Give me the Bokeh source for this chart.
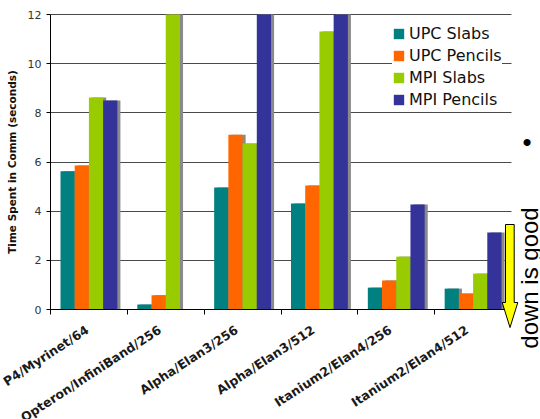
import math
import numpy as np

from bokeh.plotting import figure
from bokeh.models import (ColumnDataSource, Range1d, FixedTicker, CustomJSTickFormatter,
                          Legend, LegendItem, Label, PolyAnnotation)
from bokeh.transform import dodge
from bokeh.embed import file_html
from bokeh.resources import INLINE

# Machine / interconnect / processor count
systems = ["P4/Myrinet/64", "Opteron/InfiniBand/256", "Alpha/Elan3/256",
           "Alpha/Elan3/512", "Itanium2/Elan4/256", "Itanium2/Elan4/512"]

# Time spent in communication (seconds); axis is cut at 12
upc_slabs = [5.62, 0.20, 4.96, 4.31, 0.89, 0.85]
upc_pencils = [5.86, 0.58, 7.11, 5.04, 1.18, 0.65]
mpi_slabs = [8.62, 12.0, 6.75, 11.31, 2.15, 1.46]
mpi_pencils = [8.50, np.nan, 12.0, 12.0, 4.27, 3.13]

series_names = ["UPC Slabs", "UPC Pencils", "MPI Slabs", "MPI Pencils"]
series_values = [upc_slabs, upc_pencils, mpi_slabs, mpi_pencils]
series_colors = ["#008080", "#FF6600", "#99CC00", "#333399"]

y_ticks = [0, 2, 4, 6, 8, 10, 12]

FONT = "DejaVu Sans"

W, H = 540, 419
# plot area in canvas pixels: left, right, top, bottom
PL, PR, PT, PB = 50, 511, 14, 309
n = len(systems)
ymax = 12
xs = n / (PR - PL)          # data units per pixel (x)
ys = ymax / (PB - PT)       # data units per pixel (y)

# the frame covers the whole canvas; axes are pinned at x=0 / y=0 so the
# side note and arrow can sit outside the bar area without being clipped
p = figure(width=W, height=H,
           x_range=Range1d(-PL * xs, (W - PL) * xs),
           y_range=Range1d(-(H - PB) * ys, ymax + PT * ys),
           output_backend="svg", toolbar_location=None,
           min_border_left=0, min_border_right=0,
           min_border_top=0, min_border_bottom=0)
p.outline_line_color = None
p.background_fill_color = "white"
p.border_fill_color = "white"

# x positions: one slot per system, bars dodged inside the slot
slot = np.arange(n) + 0.5
bar_w = 0.185
offsets = [-1.5 * bar_w, -0.5 * bar_w, 0.5 * bar_w, 1.5 * bar_w]

sources = [ColumnDataSource(dict(x=slot, top=np.array(v, dtype=float), system=systems))
           for v in series_values]

# grid
p.xgrid.visible = False
p.ygrid.ticker = FixedTicker(ticks=y_ticks)
p.ygrid.bounds = (0, ymax)
p.ygrid.cross_bounds = (0, n)
p.ygrid.grid_line_color = "#4a4a4a"
p.ygrid.grid_line_width = 1
p.ygrid.level = "underlay"

# drop shadows first, then the coloured bars on top
for src, off in zip(sources, offsets):
    p.vbar(x=dodge("x", off + 0.04, range=p.x_range), top="top", width=bar_w,
           source=src, fill_color="#8a8a8a", line_color=None)

bar_renderers = []
for src, off, col in zip(sources, offsets, series_colors):
    r = p.vbar(x=dodge("x", off, range=p.x_range), top="top", width=bar_w,
               source=src, fill_color=col, line_color=None)
    bar_renderers.append(r)

# y axis
yax = p.yaxis[0]
yax.fixed_location = 0
yax.bounds = (0, ymax)
yax.ticker = FixedTicker(ticks=y_ticks)
yax.axis_label = "Time Spent in Comm (seconds)"
yax.axis_label_text_font = FONT
yax.axis_label_text_font_style = "bold"
yax.axis_label_text_font_size = "10.5px"
yax.axis_label_text_color = "#111111"
yax.axis_label_standoff = 7
yax.major_label_text_font = FONT
yax.major_label_text_font_size = "11px"
yax.major_label_text_color = "#333333"
yax.major_label_standoff = 5
yax.major_tick_in = 0
yax.major_tick_out = 4
yax.minor_tick_line_color = None
yax.axis_line_color = "black"
yax.major_tick_line_color = "black"

# x axis: labels near slot centres, tick marks at slot boundaries
xax = p.xaxis[0]
xax.fixed_location = 0
xax.bounds = (0, n)
xax.ticker = FixedTicker(ticks=list(slot - 0.078), minor_ticks=list(range(n + 1)))
xax.formatter = CustomJSTickFormatter(args=dict(labels=systems),
                                      code="return labels[Math.floor(tick)] || ''")
xax.major_label_orientation = 0.58
xax.major_label_text_font = FONT
xax.major_label_text_font_style = "bold"
xax.major_label_text_font_size = "12.5px"
xax.major_label_text_color = "#1a1a1a"
xax.major_label_standoff = 14
xax.major_tick_in = 0
xax.major_tick_out = 0
xax.minor_tick_in = 0
xax.minor_tick_out = 5
xax.minor_tick_line_color = "black"
xax.axis_line_color = "black"

legend = Legend(items=[LegendItem(label=nm, renderers=[r]) for nm, r in zip(series_names, bar_renderers)],
                location=(392, 310), margin=0, padding=3, spacing=3,
                label_height=19, glyph_width=13, glyph_height=13, label_standoff=4,
                label_text_font=FONT, label_text_font_size="16px",
                label_text_color="#111111",
                border_line_color=None, background_fill_color="white", background_fill_alpha=1)
legend.level = "overlay"
p.add_layout(legend)

# side note: bullet, "down is good" and a yellow arrow pointing down
p.add_layout(Label(x=(526.5 - PL) * xs, y=(PB - 141) * ys, text="\u2022",
                   text_font="Liberation Sans", text_font_size="26px",
                   text_align="center", text_baseline="middle", text_color="black"))
p.add_layout(Label(x=(529 - PL) * xs, y=(PB - 277.5) * ys, text="down is good", angle=math.pi / 2,
                   text_font="Liberation Sans", text_font_size="24px",
                   text_align="center", text_baseline="middle", text_color="black"))

ax_l, ax_r, hd_l, hd_r, tip = [(v - PL) * xs for v in (505, 513.7, 501.7, 517.3, 509.5)]
ay_top, ay_head, ay_tip = [(PB - v) * ys for v in (224, 302, 327)]
p.add_layout(PolyAnnotation(
    xs=[ax_l, ax_r, ax_r, hd_r, tip, hd_l, ax_l],
    ys=[ay_top, ay_top, ay_head, ay_head, ay_tip, ay_head, ay_head],
    fill_color="yellow", fill_alpha=1, line_color="black", line_alpha=1, line_width=1))

open("out.html", "w").write(file_html(p, INLINE))
